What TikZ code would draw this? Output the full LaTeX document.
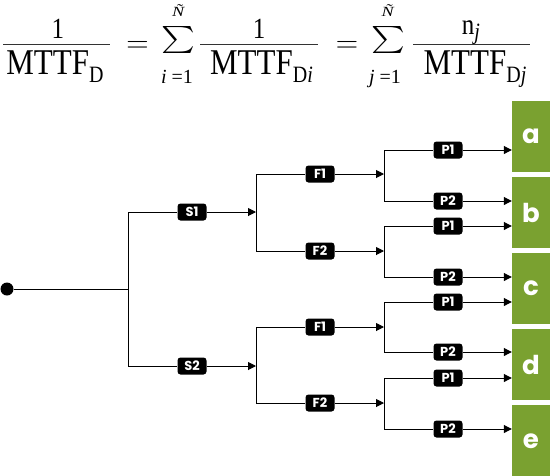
\RequirePackage{fix-cm}
\documentclass[tikz,border=0pt]{standalone}
\usepackage{fontspec}
\setmainfont{Liberation Serif}
\newfontfamily\tagfont{Poppins}
\usetikzlibrary{arrows.meta,positioning}
\definecolor{leaf}{RGB}{122,161,48}
\newcommand{\tallbox}[1]{\scalebox{1}[1.17]{#1}}
\newcommand{\lowsub}[1]{\raisebox{-7pt}{\fontsize{20}{20}\selectfont #1}}
\newcommand{\bigsum}{\scalebox{3.2}[2.7]{$\textstyle\sum$}}
\newcommand{\ntilde}{\scalebox{1.3}[1]{\fontsize{14}{14}\selectfont\textit{Ñ}}}
\tikzset{
    wire/.style={black, line width=1pt},
    flow/.style={wire, -{Triangle[length=8pt,width=8pt]}},
    bar/.style={black!80, line width=1pt},
    eqn/.style={inner sep=0pt, font=\fontsize{31}{31}\selectfont},
    numer/.style={inner sep=0pt, anchor=base, font=\fontsize{25}{25}\selectfont},
    denom/.style={inner sep=0pt, anchor=base, font=\fontsize{31}{31}\selectfont},
    limit/.style={inner sep=0pt, anchor=base, font=\fontsize{20}{20}\selectfont},
    evt/.style={
        rectangle,
        rounded corners=3pt,
        fill=black,
        text=white,
        minimum width=29pt,
        minimum height=17pt,
        inner sep=0pt,
        font=\tagfont\bfseries\fontsize{13}{13}\selectfont
    },
    result/.style={
        rectangle,
        fill=leaf,
        text=white,
        minimum width=38pt,
        minimum height=71pt,
        inner sep=0pt,
        font=\tagfont\bfseries\fontsize{26}{26}\selectfont
    }
}

\begin{document}
\begin{tikzpicture}[x=1pt,y=-1pt]
    \useasboundingbox (0,0) rectangle (550,475);

    % formula: 1/MTTF_D
    \node[numer] (num1) at (58,38) {\tallbox{1}};
    \node[denom] (den1) at (55,74) {\tallbox{MTTF\lowsub{D}}};
    \draw[bar] (3,44.5) -- (110,44.5);
    \node[eqn] (eq1) at (137.5,46.5) {$=$};

    % sum over i
    \node[eqn] (sum1) at (178,44) {\bigsum};
    \node[limit] (top1) at (178.5,16) {\ntilde};
    \node[limit] (bot1) at (177,83) {\textit{i} =1};
    \node[numer] (num2) at (259,38) {\tallbox{1}};
    \node[denom] (den2) at (261.5,74) {\tallbox{MTTF\lowsub{D\textit{i}}}};
    \draw[bar] (200,44.5) -- (318,44.5);
    \node[eqn] (eq2) at (347,46.5) {$=$};

    % sum over j
    \node[eqn] (sum2) at (388.5,44) {\bigsum};
    \node[limit] (top2) at (388,16) {\ntilde};
    \node[limit] (bot2) at (385,83) {\textit{j} =1};
    \node[numer] (num3) at (471,34) {\tallbox{n\raisebox{-5pt}{\fontsize{20}{20}\selectfont\textit{j}}}};
    \node[denom] (den3) at (475,74) {\tallbox{MTTF\lowsub{D\textit{j}}}};
    \draw[bar] (413,44.5) -- (530,44.5);

    % outcomes
    \foreach \n [count=\i from 0] in {a,b,c,d,e}
        \node[result] (\n) at (531,136.5+\i*76.1) {\n};

    % start
    \node[circle, fill=black, minimum size=13pt, inner sep=0pt] (root) at (7,289) {};
    \coordinate (fork) at (128,289);

    % S stage
    \node[evt] (S1) at (192,212) {S1};
    \node[evt] (S2) at (192,366) {S2};
    \coordinate (s1) at (256,212);
    \coordinate (s2) at (256,366);

    \draw[wire] (root) -- (fork);
    \draw[wire] (fork) |- (S1);
    \draw[wire] (fork) |- (S2);
    \draw[flow] (S1) -- (s1);
    \draw[flow] (S2) -- (s2);

    % F stage
    \foreach \k/\y/\t/\s in {1/174/F1/s1, 2/251/F2/s1, 3/327/F1/s2, 4/403/F2/s2} {
        \node[evt] (f\k) at (320,\y) {\t};
        \coordinate (q\k) at (384,\y);
        \draw[wire] (\s) |- (f\k);
        \draw[flow] (f\k) -- (q\k);
    }

    % P stage
    \foreach \k/\y/\t/\q/\o in {1/150/P1/q1/a, 2/201/P2/q1/b, 3/226/P1/q2/b, 4/277/P2/q2/c,
                                5/302/P1/q3/c, 6/352/P2/q3/d, 7/378/P1/q4/d, 8/429/P2/q4/e} {
        \node[evt] (p\k) at (448,\y) {\t};
        \draw[wire] (\q) |- (p\k);
        \draw[flow] (p\k) -- (p\k -| \o.west);
    }
\end{tikzpicture}
\end{document}
